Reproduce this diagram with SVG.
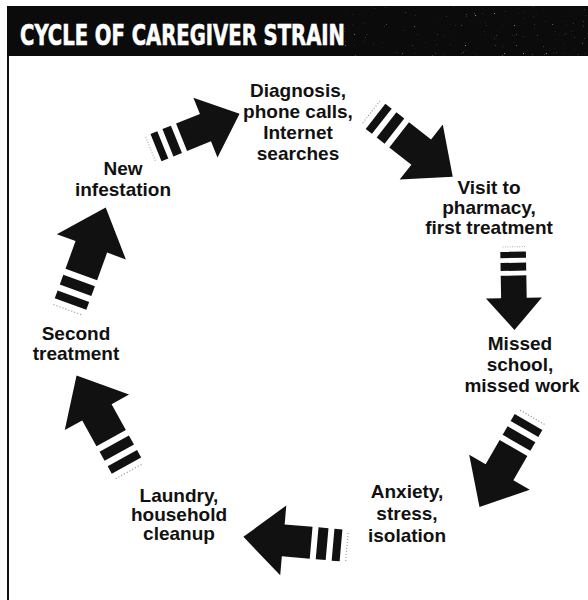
<svg xmlns="http://www.w3.org/2000/svg" xmlns:xlink="http://www.w3.org/1999/xlink" width="588" height="600" viewBox="0 0 588 600">
<style>
.t{font-family:"Liberation Sans",Arial,sans-serif;font-weight:bold;font-size:19px;fill:#111;text-anchor:middle}
.title{font-family:"DejaVu Sans Condensed","Liberation Sans Narrow","Liberation Sans",sans-serif;font-weight:bold;font-size:29px;fill:#fff;stroke:#fff;stroke-width:0.6}
.ink{fill:#111}
</style>
<defs>
<filter id="speck" x="0" y="0" width="100%" height="100%">
<feTurbulence type="fractalNoise" baseFrequency="0.9" numOctaves="1" seed="3"/>
<feColorMatrix type="matrix" values="0 0 0 0 1  0 0 0 0 1  0 0 0 0 1  0 0 0 10 -7.2"/>
</filter>
<g id="arrow">
<line x1="1" y1="-15" x2="1" y2="15" stroke="#999" stroke-width="1.2" stroke-dasharray="1 2"/>
<rect class="ink" x="7" y="-16" width="8" height="32"/>
<rect class="ink" x="21" y="-16" width="10" height="32"/>
<polygon class="ink" points="37,-16 65,-16 65,-35 105,0 65,35 65,16 37,16"/>
</g>
</defs>
<rect width="588" height="600" fill="#fff"/>
<g id="header">
<rect x="7" y="6" width="581" height="50" fill="#0b0b0b"/>
<rect x="340" y="6" width="248" height="50" filter="url(#speck)" opacity="0.55"/>
<text class="title" x="20" y="45" textLength="325" lengthAdjust="spacingAndGlyphs">CYCLE OF CAREGIVER STRAIN</text>
</g>
<line x1="8" y1="56" x2="8" y2="600" stroke="#111" stroke-width="2"/>
<g id="connectors">
<use xlink:href="#arrow" transform="translate(150,150) rotate(-22) scale(0.92)"/>
<use xlink:href="#arrow" transform="translate(370,112) rotate(38)"/>
<use xlink:href="#arrow" transform="translate(513,246) rotate(89) scale(0.8)"/>
<use xlink:href="#arrow" transform="translate(532,416) rotate(120)"/>
<use xlink:href="#arrow" transform="translate(348,546) rotate(185)"/>
<use xlink:href="#arrow" transform="translate(130,472) rotate(241) scale(1.05)"/>
<use xlink:href="#arrow" transform="translate(68,311) rotate(-70) scale(1.05)"/>
</g>
<g id="diagnosis">
<text class="t" x="298" y="97">Diagnosis,</text>
<text class="t" x="298" y="118">phone calls,</text>
<text class="t" x="298" y="139">Internet</text>
<text class="t" x="298" y="160">searches</text>
</g>
<g id="visit">
<text class="t" x="489" y="194">Visit to</text>
<text class="t" x="489" y="214">pharmacy,</text>
<text class="t" x="489" y="234">first treatment</text>
</g>
<g id="missed">
<text class="t" x="520" y="350">Missed</text>
<text class="t" x="520" y="371">school,</text>
<text class="t" x="522" y="392">missed work</text>
</g>
<g id="anxiety">
<text class="t" x="407" y="498">Anxiety,</text>
<text class="t" x="407" y="520">stress,</text>
<text class="t" x="407" y="542">isolation</text>
</g>
<g id="laundry">
<text class="t" x="179" y="502">Laundry,</text>
<text class="t" x="179" y="521">household</text>
<text class="t" x="179" y="540">cleanup</text>
</g>
<g id="second">
<text class="t" x="76" y="340">Second</text>
<text class="t" x="76" y="360">treatment</text>
</g>
<g id="new">
<text class="t" x="123" y="175">New</text>
<text class="t" x="123" y="196">infestation</text>
</g>
</svg>
